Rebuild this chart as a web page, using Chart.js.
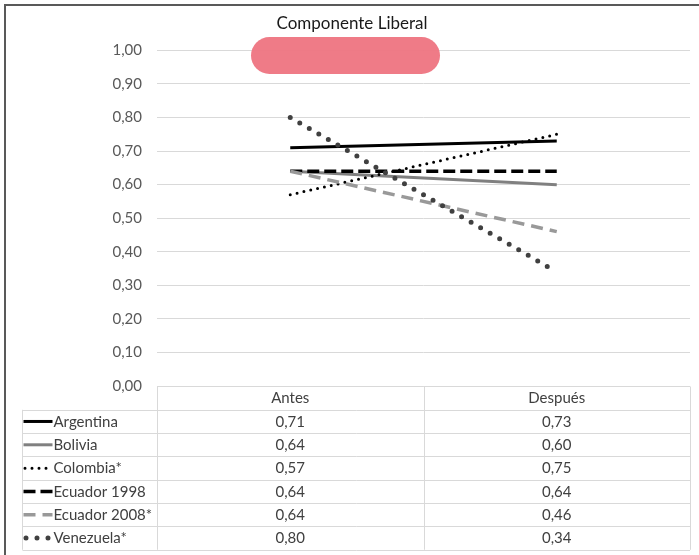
<!DOCTYPE html>
<html lang="es">
<head>
<meta charset="utf-8">
<title>Componente Liberal</title>
<script src="https://cdn.jsdelivr.net/npm/chart.js@4.4.1/dist/chart.umd.min.js"></script>
<style>
  html, body { margin: 0; padding: 0; background: #ffffff; }
  canvas { display: block; }
</style>
</head>
<body>
<canvas id="chart" width="699" height="555"></canvas>
<script>
// Periods compared
const categories = ['Antes', 'Después'];

// Country series
const seriesNames = ['Argentina', 'Bolivia', 'Colombia*', 'Ecuador 1998', 'Ecuador 2008*', 'Venezuela*'];
const argentina   = [0.71, 0.73];
const bolivia     = [0.64, 0.60];
const colombia    = [0.57, 0.75];
const ecuador1998 = [0.64, 0.64];
const ecuador2008 = [0.64, 0.46];
const venezuela   = [0.80, 0.34];

// Value axis ticks
const yTicks = [0, 0.1, 0.2, 0.3, 0.4, 0.5, 0.6, 0.7, 0.8, 0.9, 1.0];

const seriesValues = [argentina, bolivia, colombia, ecuador1998, ecuador2008, venezuela];

// Line styling per series
const lineStyles = [
  { color: '#000000', width: 3,   dash: [],       cap: 'butt'  },
  { color: '#808080', width: 3,   dash: [],       cap: 'butt'  },
  { color: '#000000', width: 3,   dash: [0, 7],   cap: 'round' },
  { color: '#000000', width: 3.5, dash: [12, 5],  cap: 'butt'  },
  { color: '#999999', width: 3.5, dash: [12, 7],  cap: 'butt'  },
  { color: '#404040', width: 5,   dash: [0, 11],  cap: 'round' }
];

const FONT = 'Lato, "Open Sans", "Liberation Sans", sans-serif';
const fmt = v => v.toFixed(2).replace('.', ',');

const datasets = seriesNames.map((name, i) => ({
  label: name,
  data: seriesValues[i],
  borderColor: lineStyles[i].color,
  backgroundColor: lineStyles[i].color,
  borderWidth: lineStyles[i].width,
  borderDash: lineStyles[i].dash,
  borderCapStyle: lineStyles[i].cap,
  pointRadius: 0,
  pointHoverRadius: 0,
  tension: 0,
  fill: false,
  order: seriesNames.length - i
}));

// Frame, highlight band and the data table under the plot
const tablePlugin = {
  id: 'dataTable',
  afterDatasetsDraw(chart) {
    const ctx = chart.ctx;
    // highlight band near the top of the plot
    const bx = 251, by = 37, bw = 189, bh = 37, r = bh / 2;
    ctx.save();
    ctx.globalAlpha = 0.96;
    ctx.fillStyle = '#ee7682';
    ctx.beginPath();
    ctx.moveTo(bx + r, by);
    ctx.lineTo(bx + bw - r, by);
    ctx.arc(bx + bw - r, by + r, r, -Math.PI / 2, Math.PI / 2);
    ctx.lineTo(bx + r, by + bh);
    ctx.arc(bx + r, by + r, r, Math.PI / 2, Math.PI * 1.5);
    ctx.closePath();
    ctx.fill();
    ctx.restore();
  },
  afterDraw(chart) {
    const ctx = chart.ctx;
    const area = chart.chartArea;
    const x = chart.scales.x;
    const top = Math.round(area.bottom) + 0.5;
    const headerH = 23.3;
    const rowH = 23.33;
    const legendLeft = 22.5;
    const keyLen = 30;
    const colEdges = [area.left, (x.getPixelForValue(0) + x.getPixelForValue(1)) / 2, area.right];
    const nRows = seriesNames.length;
    const bottom = top + headerH + rowH * nRows;

    ctx.save();
    ctx.strokeStyle = '#d9d9d9';
    ctx.lineWidth = 1;
    ctx.beginPath();
    // header top line
    ctx.moveTo(area.left, top); ctx.lineTo(area.right, top);
    // row lines
    for (let i = 0; i <= nRows; i++) {
      const y = Math.round(top + headerH + rowH * i) + 0.5;
      ctx.moveTo(legendLeft, y); ctx.lineTo(area.right, y);
    }
    // vertical lines
    colEdges.forEach(cx => {
      const px = Math.round(cx) + 0.5;
      ctx.moveTo(px, top); ctx.lineTo(px, bottom);
    });
    ctx.moveTo(legendLeft, top + headerH); ctx.lineTo(legendLeft, bottom);
    ctx.stroke();

    // header labels
    ctx.fillStyle = '#404040';
    ctx.font = '15px ' + FONT;
    ctx.textAlign = 'center';
    ctx.textBaseline = 'middle';
    categories.forEach((c, j) => {
      ctx.fillText(c, x.getPixelForValue(j), top + headerH / 2 + 0.5);
    });

    // rows: legend key, series name, values
    seriesNames.forEach((name, i) => {
      const cy = top + headerH + rowH * i + rowH / 2;
      const st = lineStyles[i];
      ctx.save();
      ctx.strokeStyle = st.color;
      ctx.lineWidth = st.width;
      ctx.setLineDash(st.dash);
      ctx.lineCap = st.cap;
      ctx.beginPath();
      const k0 = legendLeft + (st.cap === 'round' ? st.width / 2 + 1 : 1);
      ctx.moveTo(k0, cy);
      ctx.lineTo(legendLeft + keyLen, cy);
      ctx.stroke();
      ctx.restore();

      ctx.fillStyle = '#404040';
      ctx.textAlign = 'left';
      ctx.fillText(name, legendLeft + keyLen + 1, cy + 0.5);
      ctx.textAlign = 'center';
      seriesValues[i].forEach((v, j) => {
        ctx.fillText(fmt(v), x.getPixelForValue(j), cy + 0.5);
      });
    });

    // outer frame (top and left edges)
    ctx.strokeStyle = '#595959';
    ctx.lineWidth = 2;
    ctx.setLineDash([]);
    ctx.beginPath();
    ctx.moveTo(5, chart.height);
    ctx.lineTo(5, 5);
    ctx.lineTo(chart.width, 5);
    ctx.stroke();
    ctx.restore();
  }
};

new Chart(document.getElementById('chart'), {
  type: 'line',
  data: { labels: categories, datasets },
  options: {
    responsive: false,
    animation: false,
    events: [],
    layout: { padding: { left: 14, right: 9, top: 0, bottom: 0 } },
    plugins: {
      legend: { display: false },
      tooltip: { enabled: false },
      title: {
        display: true,
        text: 'Componente Liberal',
        color: '#1a1a1a',
        font: { family: FONT, size: 17, weight: 'normal' },
        padding: { top: 13, bottom: 17 }
      }
    },
    scales: {
      x: {
        type: 'category',
        offset: true,
        grid: { display: false },
        border: { display: false },
        ticks: { display: false },
        afterFit: s => { s.height = 169; }
      },
      y: {
        min: 0,
        max: 1,
        afterBuildTicks: s => { s.ticks = yTicks.map(v => ({ value: v })); },
        ticks: {
          padding: 15,
          color: '#595959',
          font: { family: FONT, size: 15 },
          callback: v => fmt(v)
        },
        grid: { color: '#d9d9d9', drawTicks: false, lineWidth: 1 },
        border: { display: false },
        afterFit: s => { s.width = 143; }
      }
    }
  },
  plugins: [tablePlugin]
});
</script>
</body>
</html>
